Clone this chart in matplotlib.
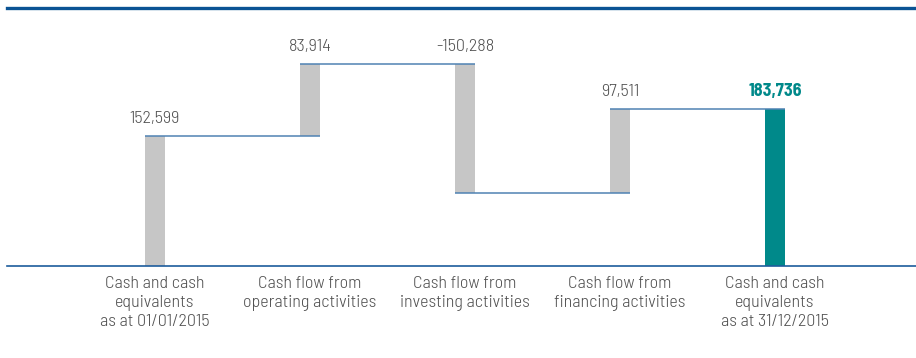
import matplotlib.pyplot as plt
import numpy as np

# Cash flow statement 2015 (EUR thousands)
categories = [
    "Cash and cash\nequivalents\nas at 01/01/2015",
    "Cash flow from\noperating activities",
    "Cash flow from\ninvesting activities",
    "Cash flow from\nfinancing activities",
    "Cash and cash\nequivalents\nas at 31/12/2015",
]
opening = 152599
flows = [83914, -150288, 97511]
closing = 183736
value_labels = ["152,599", "83,914", "-150,288", "97,511", "183,736"]

grey = "#c6c6c6"
teal = "#00898a"
blue = "#0b5394"
connector = "#4f82b3"
text_col = "#505050"
font = "Barlow Semi Condensed"

fig = plt.figure(figsize=(9.16, 3.58), dpi=100)
ax = fig.add_axes([7 / 916, (358 - 266) / 358, 909 / 916, 258 / 358])

x = np.arange(len(categories))
width = 0.125

# running totals for the floating bars
levels = np.cumsum([opening] + flows)
bottoms = [0] + [min(levels[i], levels[i + 1]) for i in range(len(flows))] + [0]
heights = [opening] + [abs(f) for f in flows] + [closing]
colors = [grey] * 4 + [teal]

ax.bar(x, heights, width, bottom=bottoms, color=colors, zorder=2)

# connectors between consecutive bars
for i in range(len(categories) - 1):
    ax.plot([x[i] - width / 2, x[i + 1] + width / 2], [levels[i], levels[i]],
            color=connector, lw=1.1, zorder=3, solid_capstyle="butt")

tops = [b + h for b, h in zip(bottoms, heights)]
for i, lab in enumerate(value_labels):
    last = i == len(value_labels) - 1
    ax.text(x[i], tops[i] + 11000, lab, ha="center", va="bottom",
            fontsize=13, family=font,
            color=teal if last else text_col,
            fontweight="bold" if last else 300)

ax.set_xlim(-148 / 155, (916 - 155) / 155)
ax.set_ylim(0, 302800)
ax.set_yticks([])
ax.set_xticks(x)
ax.set_xticklabels(categories, fontsize=13, family=font, fontweight=300,
                   color=text_col, linespacing=1.28)
ax.tick_params(axis="x", length=0, pad=7)

for side in ["left", "right"]:
    ax.spines[side].set_visible(False)
ax.spines["top"].set_color(blue)
ax.spines["top"].set_linewidth(2.4)
ax.spines["bottom"].set_color("#1d5c9c")
ax.spines["bottom"].set_linewidth(1.2)

fig.savefig("out.png", dpi=100)
